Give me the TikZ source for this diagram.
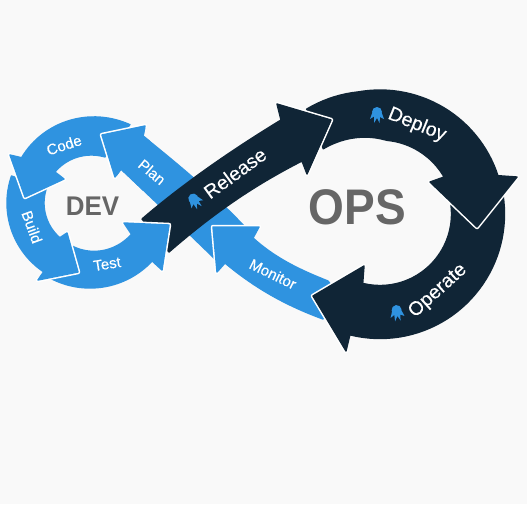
\documentclass[tikz,border=0pt]{standalone}
\usepackage{fontspec}
\setmainfont{Liberation Sans}
\newfontfamily\labelfont[FakeBold=0.25]{Liberation Sans}
\newfontfamily\titlefont[FakeStretch=0.92]{Liberation Sans Bold}
\newfontfamily\devfont[FakeStretch=0.96]{Liberation Sans Bold}
\definecolor{bgc}{HTML}{F9F9F9}
\definecolor{bluec}{HTML}{2F93E0}
\definecolor{darkc}{HTML}{102536}
\definecolor{greyc}{HTML}{666666}
\tikzset{
  halo/.style={draw=white,line width=4.5pt,line join=round,line cap=round},
  bluearrow/.style={fill=bluec,draw=bluec,line width=1.4pt,line join=round},
  darkarrow/.style={fill=darkc,draw=darkc,line width=1.4pt,line join=round},
  smalllabel/.style={text=white,font=\labelfont\fontsize{15}{15}\selectfont,inner sep=0pt},
  biglabel/.style={text=white,font=\labelfont\fontsize{19.5}{19.5}\selectfont,inner sep=0pt},
  title/.style={text=greyc,inner sep=0pt},
  octo/.pic={
    \fill[bluec] (0,-3) circle (5);
    \fill[bluec] (-4.8,-2) -- (-7,4) -- (-3,1.5) -- (-3,8) -- (0,3) -- (2.5,8) -- (3,2) -- (7,4) -- (4.8,-2) -- cycle;
  }
}
\newcommand{\planarrow}{%
  \draw[halo] (145,126) -- (102,135) -- (115,177);
  \path[bluearrow] (145,126) -- (102,135) -- (115,177) -- (121,169)
    .. controls (135,182) and (180,225) .. (214,258) -- (244,226)
    .. controls (210,190) and (170,158) .. (143,136) -- cycle;
}
\begin{document}
\begin{tikzpicture}[x=1pt,y=-1pt]
\useasboundingbox (0,0) rectangle (527,504);
\fill[bgc] (0,0) rectangle (527,504);

% Plan
\planarrow
% Monitor
\draw[halo] (259,227) -- (213,227) -- (217,272);
\path[bluearrow] (259,227) -- (213,227) -- (217,272) -- (225,263)
  .. controls (255,288) and (285,305) .. (323,319) -- (335,290) -- (328,281)
  .. controls (300,270) and (275,258) .. (253,238) -- cycle;
% Operate
\draw[halo] (346,351) -- (313,296) -- (364,266);
\path[darkarrow] (346,351) -- (313,296) -- (364,266) --
  plot[domain=104:-7,samples=40] ({380+71.5*cos(\x)},{214+71.5*sin(\x)}) --
  plot[domain=-9:104,samples=40] ({380+124.5*cos(\x)},{214+124.5*sin(\x)}) -- cycle;
% Deploy
\draw[halo] (430,182) -- (477,227) -- (517,177);
\path[darkarrow] (517,177) -- (477,227) -- (430,182) --
  plot[domain=-30:-131,samples=40] ({380+(74+max(0,(-85-\x)*0.27))*cos(\x)},{214+(74+max(0,(-85-\x)*0.27))*sin(\x)}) --
  plot[domain=-125:-18,samples=40] ({380+(124+max(0,(-100-\x)*0.16))*cos(\x)},{214+(124+max(0,(-100-\x)*0.16))*sin(\x)}) -- cycle;
% Release
\draw[halo] (277,104) -- (331,120) -- (307,174);
\path[darkarrow] (142,219) .. controls (185,182) and (235,148) .. (281,120)
  -- (277,104) -- (331,120) -- (307,174) -- (302,161)
  .. controls (255,185) and (215,212) .. (169,252) -- cycle;
% Test
\draw[halo] (124,223) -- (169,225) -- (162,270);
\path[bluearrow] (124,223) -- (169,225) -- (162,270) --
  plot[domain=43:118,samples=30] ({90+85*cos(\x)},{203+85*sin(\x)}) --
  plot[domain=117:37,samples=30] ({90+(47.5+(100-\x)*0.07)*cos(\x)},{203+(47.5+(100-\x)*0.07)*sin(\x)}) -- cycle;
% Build
\draw[halo] (38,280) -- (78,272) -- (67,233);
\path[bluearrow] (38,280) -- (78,272) -- (67,233) --
  plot[domain=131:198,samples=30] ({90+46*cos(\x)},{203+46*sin(\x)}) --
  plot[domain=199:124,samples=30] ({90+83*cos(\x)},{203+83*sin(\x)}) -- cycle;
% Code
\draw[halo] (10,155) -- (25,197) -- (64,179);
\path[bluearrow] (10,155) -- (25,197) -- (64,179) --
  plot[domain=221.5:288,samples=30] ({90+(46.8+(\x-221)*0.024)*cos(\x)},{203+(46.8+(\x-221)*0.024)*sin(\x)}) --
  plot[domain=297:213.5,samples=30] ({90+(82+(\x-213)*0.07)*cos(\x)},{203+(82+(\x-213)*0.07)*sin(\x)}) -- cycle;
% Plan head again, above the tail of Code
\begin{scope}
  \clip (90,110) rectangle (150,190);
  \planarrow
\end{scope}

% Titles
\node[title,font=\devfont\fontsize{27}{27}\selectfont] (dev) at (92.5,206) {DEV};
\node[title,font=\titlefont\fontsize{50}{50}\selectfont] (ops) at (357.5,207) {OPS};

% Labels
\node[smalllabel,rotate=18] (code) at (64,145) {Code};
\node[smalllabel,rotate=-70] (build) at (32,227) {Build};
\node[smalllabel,rotate=9] (test) at (107,264) {Test};
\node[smalllabel,rotate=-40] (plan) at (152,172) {Plan};
\node[smalllabel,rotate=-26] (monitor) at (273,274) {Monitor};
\node[biglabel,rotate=36] (release) at (235,173) {Release};
\node[biglabel,rotate=-22] (deploy) at (417,125) {Deploy};
\node[biglabel,rotate=42] (operate) at (438,291) {Operate};

% Octopus marks
\pic[rotate=35] at (195,201) {octo};
\pic at (377,115) {octo};
\pic[rotate=8] at (397,313) {octo};
\end{tikzpicture}
\end{document}
